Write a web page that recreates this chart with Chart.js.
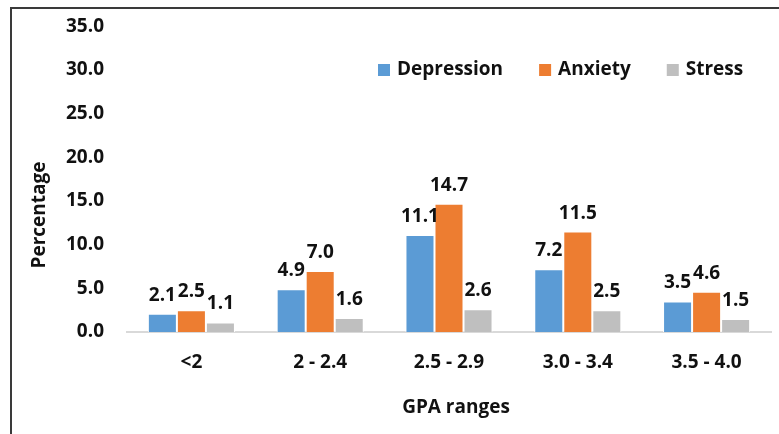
<!DOCTYPE html>
<html>
<head>
<meta charset="utf-8">
<script src="https://cdn.jsdelivr.net/npm/chart.js@4/dist/chart.umd.min.js"></script>
<style>
  html, body { margin: 0; padding: 0; background: #fff; }
  #wrap { width: 779px; height: 434px; position: relative; }
</style>
</head>
<body>
<div id="wrap"><canvas id="c" width="779" height="434"></canvas></div>
<script>
// GPA bands and prevalence (%) of each condition
const categories = ['<2', '2 - 2.4', '2.5 - 2.9', '3.0 - 3.4', '3.5 - 4.0'];
const depression = [2.1, 4.9, 11.1, 7.2, 3.5];
const anxiety    = [2.5, 7.0, 14.7, 11.5, 4.6];
const stress     = [1.1, 1.6, 2.6, 2.5, 1.5];
const yTicks     = [0, 5, 10, 15, 20, 25, 30, 35];
const xTitle = 'GPA ranges';
const yTitle = 'Percentage';

const FONT = '"Open Sans", sans-serif';
const BOLD = 'bold 19px ' + FONT;
const TEXT = '#111111';

// frame line around the chart
const framePlugin = {
  id: 'frame',
  beforeDraw(chart) {
    const ctx = chart.ctx;
    ctx.save();
    ctx.fillStyle = '#fff';
    ctx.fillRect(0, 0, chart.width, chart.height);
    ctx.strokeStyle = '#3a3a3a';
    ctx.lineWidth = 2;
    ctx.beginPath();
    ctx.moveTo(11, chart.height);
    ctx.lineTo(11, 8);
    ctx.lineTo(chart.width, 8);
    ctx.stroke();
    ctx.restore();
  }
};

// value labels above each bar
const valueLabels = {
  id: 'valueLabels',
  afterDatasetsDraw(chart) {
    const ctx = chart.ctx;
    ctx.save();
    ctx.font = BOLD;
    ctx.fillStyle = TEXT;
    ctx.textAlign = 'center';
    ctx.textBaseline = 'alphabetic';
    chart.data.datasets.forEach((ds, i) => {
      chart.getDatasetMeta(i).data.forEach((bar, j) => {
        ctx.fillText(ds.data[j].toFixed(1), bar.x, bar.y - 13);
      });
    });
    ctx.restore();
  }
};

// legend row and axis titles
const annotations = {
  id: 'annotations',
  afterDraw(chart) {
    const ctx = chart.ctx;
    const area = chart.chartArea;
    ctx.save();
    ctx.font = BOLD;
    ctx.textBaseline = 'middle';
    ctx.textAlign = 'left';
    let x = 378;
    const y = 70;
    chart.data.datasets.forEach(ds => {
      ctx.fillStyle = ds.backgroundColor;
      ctx.fillRect(x, y - 6, 12, 12);
      x += 12 + 7;
      ctx.fillStyle = TEXT;
      ctx.fillText(ds.label, x, y);
      x += ctx.measureText(ds.label).width + 36;
    });

    ctx.fillStyle = TEXT;
    ctx.textAlign = 'center';
    ctx.textBaseline = 'alphabetic';
    ctx.fillText(xTitle, (area.left + area.right) / 2 + 7, 413);

    ctx.translate(45, area.bottom - 117);
    ctx.rotate(-Math.PI / 2);
    ctx.fillText(yTitle, 0, 0);
    ctx.restore();
  }
};

new Chart(document.getElementById('c'), {
  type: 'bar',
  data: {
    labels: categories,
    datasets: [
      { label: 'Depression', data: depression, backgroundColor: '#5b9bd5' },
      { label: 'Anxiety',    data: anxiety,    backgroundColor: '#ed7d31' },
      { label: 'Stress',     data: stress,     backgroundColor: '#bfbfbf' }
    ]
  },
  options: {
    responsive: false,
    animation: false,
    devicePixelRatio: 1,
    layout: { padding: { left: 0, right: 8, top: 17, bottom: 0 } },
    datasets: {
      bar: {
        categoryPercentage: 0.676,
        barPercentage: 1,
        borderColor: '#ffffff',
        borderWidth: 1
      }
    },
    plugins: {
      legend: { display: false },
      tooltip: { enabled: false }
    },
    scales: {
      x: {
        grid: { display: false },
        border: { display: true, color: '#d9d9d9', width: 2 },
        ticks: { color: TEXT, font: { family: FONT, size: 19, weight: 'bold' }, padding: 11, maxRotation: 0 },
        afterFit(scale) { scale.height = 102; }
      },
      y: {
        min: 0, max: 35,
        grid: { display: false },
        border: { display: false },
        afterBuildTicks(scale) { scale.ticks = yTicks.map(v => ({ value: v })); },
        ticks: {
          color: TEXT, padding: 15,
          font: { family: FONT, size: 19, weight: 'bold' },
          callback: v => Number(v).toFixed(1)
        },
        afterFit(scale) { scale.width = 127; }
      }
    }
  },
  plugins: [framePlugin, valueLabels, annotations]
});
</script>
</body>
</html>
